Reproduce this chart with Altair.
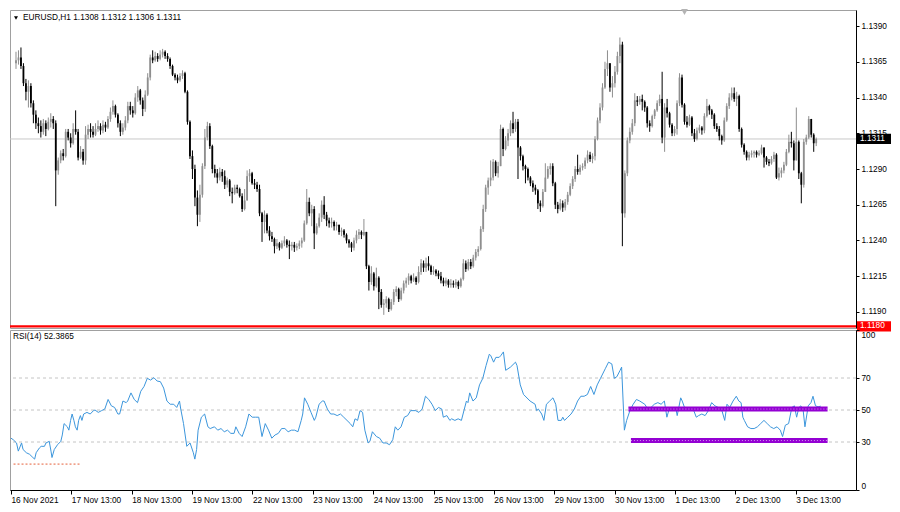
import altair as alt
import pandas as pd

# ---------------- data (prices stored in pips above 1.1000) ----------------
BASE = 1.1000
PIP = 0.0001
first_open_pip = 364

close_pips = [
    366, 368, 362, 350, 344, 348, 336, 328, 322, 320,
    316, 322, 318, 323, 325, 322, 289, 296, 301, 299,
    316, 312, 308, 318, 316, 298, 302, 296, 314, 318,
    316, 314, 318, 320, 317, 321, 319, 325, 330, 334,
    328, 322, 316, 319, 324, 334, 331, 329, 340, 345,
    338, 332, 342, 354, 368, 366, 369, 367, 370, 372,
    369, 367, 362, 356, 354, 352, 355, 357, 344, 323,
    299, 290, 270, 258, 272, 292, 312, 320, 306, 290,
    287, 284, 288, 285, 279, 282, 274, 273, 277, 276,
    271, 262, 268, 285, 287, 280, 279, 276, 259, 253,
    258, 247, 243, 241, 236, 238, 235, 238, 240, 237,
    236, 237, 235, 236, 238, 240, 252, 267, 259, 262,
    245, 250, 256, 265, 258, 254, 252, 253, 250, 251,
    246, 247, 244, 240, 238, 235, 240, 244, 246, 244,
    246, 222, 211, 217, 208, 214, 204, 195, 196, 199,
    192, 197, 204, 206, 199, 205, 210, 212, 215, 212,
    214, 211, 218, 224, 221, 224, 222, 218, 219, 217,
    215, 212, 210, 212, 209, 210, 209, 211, 208, 213,
    224, 220, 225, 222, 228, 232, 234, 248, 262, 277,
    282, 284, 295, 287, 292, 318, 304, 310, 315, 322,
    318, 323, 305, 299, 292, 290, 284, 280, 277, 275,
    266, 264, 274, 284, 290, 292, 280, 265, 262, 266,
    263, 267, 272, 278, 283, 290, 288, 291, 292, 296,
    300, 297, 299, 311, 324, 333, 347, 360, 364, 347,
    350, 358, 369, 377, 259, 287, 310, 316, 322, 338,
    337, 339, 337, 333, 322, 320, 327, 331, 336, 339,
    312, 333, 329, 321, 315, 318, 336, 354, 335, 323,
    321, 326, 315, 311, 317, 319, 317, 327, 334, 331,
    328, 320, 318, 313, 310, 324, 334, 340, 343, 339,
    341, 318, 307, 302, 298, 300, 301, 302, 300, 301,
    305, 298, 295, 294, 297, 300, 284, 287, 289, 293,
    302, 309, 308, 296, 309, 287, 279, 309, 312, 325,
    314, 308, 311,
]

high_pips = [
    372, 373, 375, 364, 353, 352, 350, 338, 331, 326,
    324, 325, 324, 326, 329, 327, 324, 298, 303, 304,
    318, 318, 315, 322, 331, 318, 306, 304, 320, 321,
    322, 320, 322, 324, 322, 324, 323, 327, 333, 338,
    335, 329, 324, 322, 327, 337, 337, 334, 343, 348,
    346, 340, 345, 357, 370, 373, 372, 371, 373, 374,
    373, 371, 368, 363, 357, 356, 357, 359, 358, 345,
    324, 303, 293, 275, 279, 294, 318, 323, 322, 307,
    293, 290, 291, 290, 289, 284, 283, 277, 279, 279,
    277, 273, 276, 289, 290, 288, 283, 281, 279, 260,
    261, 259, 250, 246, 242, 241, 239, 240, 243, 241,
    240, 239, 239, 238, 240, 242, 254, 276, 270, 265,
    264, 252, 259, 268, 271, 260, 256, 256, 254, 253,
    251, 249, 248, 245, 241, 239, 242, 247, 248, 247,
    255, 246, 223, 222, 218, 221, 215, 206, 199, 201,
    200, 199, 206, 208, 207, 207, 212, 214, 217, 216,
    217, 215, 222, 227, 226, 228, 229, 223, 222, 220,
    219, 218, 214, 214, 213, 213, 212, 213, 212, 214,
    227, 226, 227, 227, 230, 234, 236, 250, 265, 279,
    284, 296, 297, 296, 295, 321, 319, 313, 318, 324,
    330, 325, 325, 306, 300, 293, 291, 285, 282, 279,
    276, 268, 276, 294, 292, 294, 294, 281, 267, 269,
    268, 269, 274, 280, 285, 292, 300, 293, 294, 298,
    303, 302, 301, 313, 326, 336, 350, 365, 373, 364,
    355, 362, 372, 382, 379, 289, 312, 319, 325, 343,
    341, 341, 342, 338, 334, 324, 328, 332, 338, 342,
    358, 336, 339, 330, 322, 320, 338, 357, 356, 336,
    327, 328, 327, 318, 319, 321, 320, 329, 339, 335,
    332, 329, 322, 320, 314, 326, 336, 343, 347, 347,
    344, 342, 319, 308, 303, 302, 303, 303, 303, 303,
    307, 305, 299, 297, 299, 302, 301, 291, 291, 295,
    304, 314, 316, 310, 333, 310, 288, 311, 314, 327,
    325, 315, 312,
]

low_pips = [
    360, 363, 360, 348, 338, 333, 333, 322, 318, 315,
    312, 314, 313, 317, 319, 318, 264, 286, 294, 296,
    298, 310, 305, 307, 314, 296, 297, 293, 293, 311,
    312, 312, 313, 316, 314, 315, 316, 318, 323, 328,
    326, 319, 313, 314, 317, 322, 328, 326, 328, 337,
    335, 327, 330, 341, 352, 364, 365, 365, 366, 368,
    367, 365, 360, 355, 352, 350, 351, 353, 343, 321,
    297, 283, 264, 250, 253, 270, 290, 310, 304, 287,
    284, 280, 282, 281, 276, 277, 271, 266, 272, 273,
    270, 260, 261, 268, 281, 279, 276, 274, 257, 239,
    245, 245, 240, 239, 231, 234, 233, 234, 236, 235,
    227, 233, 232, 233, 234, 235, 239, 251, 257, 250,
    234, 244, 249, 253, 255, 250, 249, 249, 247, 247,
    244, 243, 242, 238, 235, 232, 233, 238, 241, 241,
    243, 220, 205, 209, 205, 207, 192, 193, 188, 193,
    190, 191, 195, 201, 197, 198, 203, 207, 209, 210,
    211, 209, 210, 216, 218, 218, 219, 216, 216, 215,
    213, 210, 208, 208, 207, 207, 207, 207, 206, 207,
    212, 218, 219, 220, 221, 226, 229, 233, 246, 260,
    272, 278, 282, 285, 284, 292, 299, 303, 306, 313,
    315, 316, 283, 296, 289, 280, 282, 278, 274, 272,
    262, 260, 263, 274, 283, 286, 278, 262, 259, 261,
    260, 261, 265, 271, 276, 281, 286, 286, 289, 290,
    294, 295, 294, 296, 310, 322, 331, 346, 355, 344,
    340, 347, 356, 364, 236, 256, 285, 308, 314, 320,
    334, 335, 331, 330, 319, 316, 319, 325, 330, 334,
    308, 302, 326, 319, 313, 313, 314, 334, 333, 321,
    319, 320, 313, 309, 310, 315, 314, 315, 326, 328,
    325, 318, 316, 310, 307, 309, 323, 332, 338, 337,
    334, 316, 305, 300, 296, 296, 298, 298, 298, 299,
    300, 291, 293, 292, 293, 295, 283, 282, 284, 287,
    292, 301, 305, 289, 296, 283, 266, 277, 307, 311,
    312, 302, 306,
]

# RSI(14): (bar index, value)
rsi_points = [
    (0, 32.4), (0.9, 31.4), (2.2, 29.4), (2.9, 24.3), (4.2, 29.4), (4.8, 25.3),
    (6.1, 23.3), (7.4, 22.3), (8.7, 20.3), (9.4, 19.3), (10, 23.3), (11.3, 26.3),
    (12, 27.3), (13.3, 27.3), (13.9, 29.4), (15.2, 30.4), (15.9, 24.3), (16.3, 20.3),
    (17.2, 25.3), (18.5, 28.3), (19.8, 30.4), (20.4, 34.4), (21.1, 41.5), (22.4, 39.5),
    (23, 37.4), (23.7, 43.5), (24.3, 47.5), (25, 43.5), (25.6, 39.5), (26.3, 37.4),
    (26.9, 43.5), (27.6, 46.5), (28.2, 43.5), (28.9, 47.5), (30.2, 48.5), (31.5, 47.5),
    (32.8, 49.6), (33.4, 50), (34.7, 48.5), (36, 49.6), (37.3, 50.6), (38.6, 56.6),
    (39.9, 52.6), (41.2, 51.6), (42.5, 47.5), (43.2, 47.5), (44.5, 55.6), (45.8, 54.6),
    (46.4, 55.6), (47.7, 60.7), (49, 56.6), (50.3, 54.6), (51.6, 61.7), (52.9, 64.7),
    (54.2, 69.8), (55.5, 68.7), (56.8, 70.2), (58.1, 68.1), (59.4, 67.7), (60.7, 63.7),
    (62, 55.6), (63.3, 53.6), (64.7, 53.6), (65.9, 51.6), (67, 55.6), (67.5, 50.6),
    (68.6, 41.5), (69.9, 27.3), (71.2, 29.4), (72.5, 23.3), (73.1, 19.3), (73.8, 25.3),
    (74.4, 37.4), (75.7, 45.5), (77, 47.5), (78.3, 39.5), (79.2, 38.4), (80.9, 39.5),
    (82.2, 37.4), (83.5, 38.4), (84.8, 36.4), (86.1, 37.4), (87.4, 35.4), (88.7, 35.4),
    (89.4, 39.5), (90.7, 35.4), (91.9, 33.4), (93.3, 39.5), (94.6, 47.5), (95.9, 45.5),
    (97.2, 45.5), (98.5, 45.5), (99.8, 33.4), (101.1, 41.5), (102.4, 37.4), (103.7, 32.4),
    (105, 34.4), (106.3, 35.4), (107.6, 38.4), (108.9, 38.4), (110.2, 36.4), (111.5, 37.4),
    (112.8, 37.4), (114.1, 36.4), (115.4, 43.5), (116, 47.5), (116.7, 57.6), (118, 53.6),
    (119.3, 48.5), (120.6, 43.5), (121.2, 45.5), (122.5, 53.6), (123.8, 55.6), (124.5, 55.6),
    (125.8, 50.6), (127.1, 47.5), (128.4, 47.5), (129.7, 46.5), (131, 47.5), (132.3, 45.5),
    (133.6, 43.5), (134.9, 41.5), (135.9, 39.5), (136.8, 44.5), (137.8, 43.5), (138.8, 49.6),
    (139.8, 48.5), (140.7, 37.4), (142, 29.4), (142.7, 30.4), (143.7, 36.4), (145.3, 33.4),
    (146.6, 32.4), (147.9, 29.4), (149.2, 29.4), (150.5, 28.3), (151.8, 31.4), (152.8, 39.5),
    (153.8, 37.4), (155.1, 39.5), (156.4, 45.5), (157.7, 46.5), (158.9, 49.6), (160.9, 49.6),
    (162.2, 48.5), (163.5, 50.6), (164.8, 58.6), (166.1, 56.6), (167.4, 53.6), (168.7, 49.6),
    (170, 51.6), (171.3, 50.6), (171.9, 45.5), (173.3, 46.5), (174.5, 43.5), (175.2, 44.5),
    (176.5, 43.5), (177.8, 44.5), (179.1, 43.5), (180.1, 49.6), (181.1, 55.6), (181.7, 54.6),
    (182.4, 60.7), (183.7, 55.6), (185, 57.6), (186.3, 65.7), (187.6, 69.8), (188.9, 77.8),
    (190.2, 84.9), (190.8, 83.9), (191.9, 79.9), (192.8, 82.9), (194.1, 82.9), (194.7, 83.9),
    (195.8, 86.3), (196.7, 74.8), (198.6, 76.8), (200.6, 79.9), (201.2, 77.8), (202.5, 65.7),
    (203.8, 59.7), (206.4, 55.6), (208.4, 53.6), (209, 49.6), (209.7, 50.6), (211, 47.5),
    (211.9, 43.5), (212.9, 53.6), (214.2, 55.6), (215.5, 57.6), (216.6, 53.6), (217.5, 43.5),
    (218.8, 43.5), (219.4, 45.5), (220.1, 43.5), (221.4, 45.5), (222.7, 47.5), (224, 50.6),
    (225.3, 55.6), (226.6, 58.6), (227.9, 58.6), (229.2, 59.7), (230.5, 64.7), (231.8, 59.7),
    (233.1, 65.7), (234.4, 69.8), (236.3, 75.8), (237.6, 79.9), (238.9, 78.8), (239.9, 69.8),
    (240.9, 70.8), (242.2, 74.8), (242.8, 76.8), (243.9, 37.4), (244.8, 43.5), (246.1, 49.6),
    (247.4, 53.6), (248.7, 56.6), (250, 55.6), (252, 53.6), (253.2, 50.6), (254.5, 51.6),
    (255.8, 53.6), (257.2, 54.6), (258.5, 53.6), (259.8, 55.6), (260.8, 45.5), (261.7, 50.6),
    (263, 50.6), (264.3, 51.6), (264.9, 46.5), (266.3, 57.6), (266.9, 55.6), (267.8, 51.6),
    (268.9, 49.6), (270.2, 50.6), (271.5, 49.6), (272.5, 45.5), (273.4, 46.5), (274.7, 47.5),
    (276, 46.5), (277.3, 49.6), (278.6, 54.6), (279.9, 52.6), (281.2, 51.6), (282.5, 50.6),
    (283.8, 43.5), (284.7, 53.6), (285.8, 51.6), (287.1, 55.6), (288.4, 58.6), (289.4, 55.6),
    (290.3, 54.6), (291, 45.5), (291.6, 43.5), (292.9, 39.5), (294.2, 38.4), (295.5, 38.4),
    (296.8, 39.5), (298.1, 41.5), (299.4, 43.5), (300.7, 41.5), (302, 39.5), (303.3, 38.4),
    (304.6, 39.5), (305.9, 37.4), (306.8, 33.4), (307.9, 40.5), (309.2, 41.5), (310.5, 51.6),
    (311.5, 52.6), (312.4, 45.5), (313.3, 51.6), (314.1, 52.6), (315, 49.6), (315.7, 39.5),
    (317, 52.6), (318.1, 54.6), (318.9, 58.6), (319.9, 52.6), (320.9, 52.0), (322, 52.4),
]

date_bars = [0, 24, 48, 72, 96, 120, 144, 168, 192, 216, 240, 264, 288, 312]
date_labels = ["16 Nov 2021", "17 Nov 13:00", "18 Nov 13:00", "19 Nov 13:00",
               "22 Nov 13:00", "23 Nov 13:00", "24 Nov 13:00", "25 Nov 13:00",
               "26 Nov 13:00", "29 Nov 13:00", "30 Nov 13:00", "1 Dec 13:00",
               "2 Dec 13:00", "3 Dec 13:00"]
price_ticks = [1.1190, 1.1215, 1.1240, 1.1265, 1.1290, 1.1315, 1.1340, 1.1365, 1.1390]
rsi_ticks = [0, 30, 50, 70, 100]
rsi_levels = [30, 50, 70]
bid_price = 1.1311
hline_price = 1.1180
header_text = "EURUSD,H1  1.1308 1.1312 1.1306 1.1311"
rsi_header = "RSI(14) 52.3865"
# drawn objects on the RSI window
purple_b0 = [245.5, 246.5]
purple_b1 = [324.7, 324.7]
purple_v = [50.6, 30.9]
red_dash_b0 = [1.0]
red_dash_b1 = [27.7]
red_dash_v = [16.2]
shift_marker_bar = [269]

# ---------------- layout / style ----------------
W, H1, H2 = 846, 318, 160
FONT = "Liberation Sans"
FS = 8.3
BULL = "#8e8e8e"
BEAR = "#000000"

n = len(close_pips)
open_pips = [first_open_pip] + close_pips[:-1]
candles = pd.DataFrame({
    "bar": list(range(n)),
    "open": [round(BASE + v * PIP, 4) for v in open_pips],
    "close": [round(BASE + v * PIP, 4) for v in close_pips],
    "high": [round(BASE + v * PIP, 4) for v in high_pips],
    "low": [round(BASE + v * PIP, 4) for v in low_pips],
})

xs = alt.Scale(domain=[-0.4, 336], nice=False, zero=False)
ys = alt.Scale(domain=[1.11788, 1.14012], nice=False, zero=False)
rs = alt.Scale(domain=[0, 100], nice=False, zero=False)

price_axis = alt.Axis(orient="right", values=price_ticks, format=".4f", title=None, grid=False,
                      labelFont=FONT, labelFontSize=FS, labelColor="#000000", tickColor="#000000",
                      tickSize=3, domainColor="#000000", labelPadding=2, labelOverlap=False)
rsi_axis = alt.Axis(orient="right", values=rsi_ticks, format="d", title=None, grid=False,
                    labelFont=FONT, labelFontSize=FS, labelColor="#000000", tickColor="#000000",
                    tickSize=3, domainColor="#000000", labelPadding=2, labelFlush=True,
                    labelOverlap=False)
label_expr = "[" + ",".join("'" + s + "'" for s in date_labels) + "][round(datum.value/24)]"
date_axis = alt.Axis(orient="bottom", values=date_bars, labelExpr=label_expr, labelAlign="left",
                     labelBaseline="top", title=None, grid=False, labelFont=FONT, labelFontSize=FS,
                     labelColor="#000000", tickColor="#000000", tickSize=4, domainColor="#000000",
                     labelPadding=1, labelOverlap=False, labelFlush=False)

color_enc = alt.condition("datum.close >= datum.open", alt.value(BULL), alt.value(BEAR))

# main panel: x axis hidden, y axis = price axis on every layer (same definition)
MX = lambda f: alt.X(f, scale=xs, axis=None)
MY = lambda f: alt.Y(f, scale=ys, axis=price_axis)

base = alt.Chart(candles)
wicks = base.mark_rule(strokeWidth=1).encode(x=MX("bar:Q"), y=MY("low:Q"), y2="high:Q", color=color_enc)
bodies = base.mark_bar(size=1.8).encode(x=MX("bar:Q"), y=MY("open:Q"), y2="close:Q", color=color_enc)

bid_line = alt.Chart(pd.DataFrame({"p": [bid_price]})).mark_rule(
    color="#c8c8c8", strokeWidth=1).encode(y=MY("p:Q"))
red_line = alt.Chart(pd.DataFrame({"p": [hline_price]})).mark_rule(
    color="#ff0000", strokeWidth=2.2).encode(y=MY("p:Q"))

boxes = pd.DataFrame({"p": [bid_price, hline_price], "label": ["1.1311", "1.1180"],
                      "bg": ["#000000", "#ff0000"]})
box_rect = alt.Chart(boxes).mark_rect().transform_calculate(
    lo="datum.p - 0.00036", hi="datum.p + 0.00036"
).encode(
    x=alt.value(W + 1), x2=alt.value(W + 35),
    y=MY("lo:Q"), y2="hi:Q",
    color=alt.Color("bg:N", scale=None, legend=None),
)
box_text = alt.Chart(boxes).mark_text(align="left", baseline="middle", font=FONT, fontSize=FS,
                                      color="#ffffff").encode(
    x=alt.value(W + 4), y=MY("p:Q"), text="label:N")

header = alt.Chart(pd.DataFrame({"t": [header_text]})).mark_text(
    align="left", baseline="middle", font=FONT, fontSize=FS, color="#000000"
).encode(x=alt.value(13), y=alt.value(8), text="t:N")
header_tri = alt.Chart(pd.DataFrame({"t": ["v"]})).mark_point(
    shape="triangle-down", filled=True, color="#000000", size=16, opacity=1
).encode(x=alt.value(6), y=alt.value(8))
shift_marker = alt.Chart(pd.DataFrame({"bar": shift_marker_bar})).mark_point(
    shape="triangle-down", filled=True, color="#b4b4b4", size=45, opacity=1
).encode(x=MX("bar:Q"), y=alt.value(2))

main = alt.layer(bid_line, wicks, bodies, red_line, box_rect, box_text, header, header_tri,
                 shift_marker).properties(width=W, height=H1)

# ---------------- RSI panel ----------------
RX = lambda f: alt.X(f, scale=xs, axis=date_axis)
RY = lambda f: alt.Y(f, scale=rs, axis=rsi_axis)

rsi_df = pd.DataFrame(rsi_points, columns=["bar", "rsi"])
levels = alt.Chart(pd.DataFrame({"v": rsi_levels})).mark_rule(
    color="#c4c4c4", strokeDash=[3, 3], strokeWidth=1).encode(y=RY("v:Q"))
red_dash = alt.Chart(pd.DataFrame({"b0": red_dash_b0, "b1": red_dash_b1, "v": red_dash_v})).mark_rule(
    color="#e5603a", strokeDash=[2, 2], strokeWidth=1).encode(x=RX("b0:Q"), x2="b1:Q", y=RY("v:Q"))
pdf = pd.DataFrame({"b0": purple_b0, "b1": purple_b1, "v": purple_v})
purple = alt.Chart(pdf).mark_rule(color="#9400d3", strokeWidth=5).encode(
    x=RX("b0:Q"), x2="b1:Q", y=RY("v:Q"))
purple_dots = alt.Chart(pdf).mark_rule(color="#ffffff", strokeDash=[1, 2], strokeWidth=1,
                                       opacity=0.6).encode(x=RX("b0:Q"), x2="b1:Q", y=RY("v:Q"))
rsi_line = alt.Chart(rsi_df).mark_line(color="#3c96dc", strokeWidth=1).encode(
    x=RX("bar:Q"), y=RY("rsi:Q"))
rsi_head = alt.Chart(pd.DataFrame({"t": [rsi_header]})).mark_text(
    align="left", baseline="middle", font=FONT, fontSize=FS, color="#000000"
).encode(x=alt.value(3), y=alt.value(7), text="t:N")

rsi = alt.layer(levels, red_dash, rsi_line, purple, purple_dots, rsi_head).properties(width=W, height=H2)

chart = alt.vconcat(main, rsi, spacing=2, bounds="flush").properties(
    padding={"left": 0, "top": 0, "right": 0, "bottom": 0}, background="#ffffff"
).configure_view(stroke="#a0a0a0", strokeWidth=1)

chart.save("out.html", embed_options={"renderer": "svg", "actions": False})
